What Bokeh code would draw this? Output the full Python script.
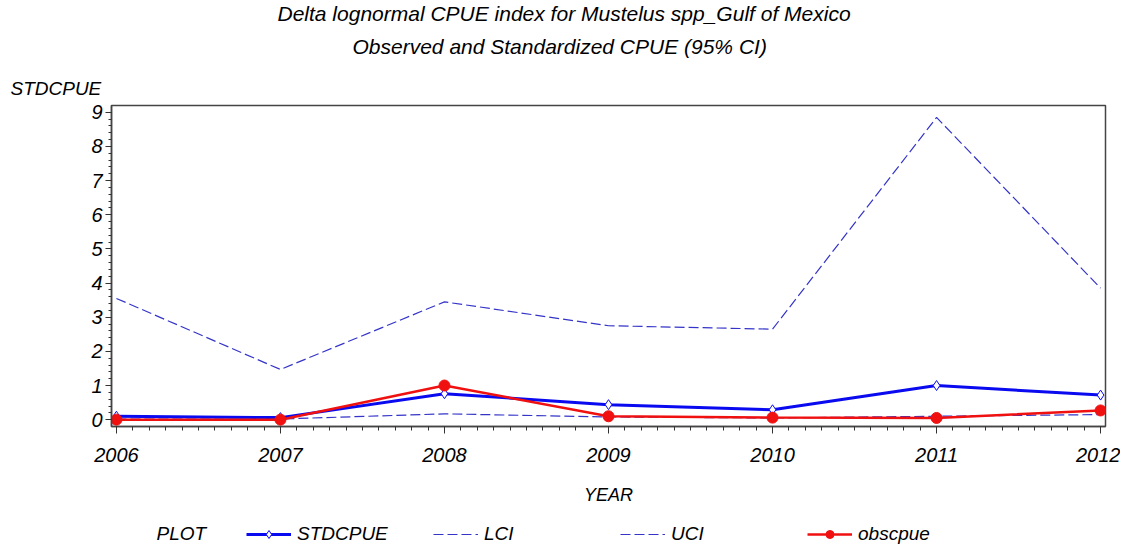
from bokeh.plotting import figure
from bokeh.layouts import column
from bokeh.models import Range1d, FixedTicker, Title, Legend, LegendItem, Label
from bokeh.embed import file_html
from bokeh.resources import INLINE

years = [2006, 2007, 2008, 2009, 2010, 2011, 2012]
stdcpue = [0.10, 0.06, 0.76, 0.44, 0.29, 1.00, 0.72]
lci = [0.02, 0.02, 0.17, 0.08, 0.05, 0.10, 0.15]
uci = [3.55, 1.47, 3.45, 2.75, 2.65, 8.85, 3.85]
obscpue = [0.00, 0.00, 1.00, 0.10, 0.06, 0.05, 0.27]
y_ticks = [0, 1, 2, 3, 4, 5, 6, 7, 8, 9]

FONT = "Liberation Sans"
BLUE = "#0a0af0"
DASH_BLUE = "#3434c8"
RED = "#f01010"

STD_STYLE = dict(line_color=BLUE, line_width=3)
STD_MARK = dict(marker="diamond", size=10, line_color=BLUE, fill_color="white",
                line_width=1)
CI_STYLE = dict(line_color=DASH_BLUE, line_width=1.2, line_dash="10 4")
OBS_STYLE = dict(line_color=RED, line_width=2.5)
OBS_MARK = dict(marker="circle", size=11, line_color=RED, fill_color=RED)

p = figure(frame_width=994, frame_height=321, output_backend="svg",
           toolbar_location=None,
           x_range=Range1d(2005.97, 2012.03), y_range=Range1d(-0.2, 9.2),
           min_border_left=111, min_border_right=15, min_border_top=105,
           min_border_bottom=95)
p.title.visible = False
p.xgrid.visible = False
p.ygrid.visible = False
p.outline_line_color = "#444444"
p.outline_line_width = 1.5

p.add_layout(Title(text="STDCPUE", align="left", offset=-101, text_font=FONT,
                   text_font_style="italic", text_font_size="19px",
                   text_color="black", standoff=14), "above")
p.add_layout(Title(text="Observed and Standardized CPUE (95% CI)", align="left",
                   offset=241, text_font=FONT, text_font_style="italic",
                   text_font_size="21px", text_color="black", standoff=22), "above")
p.add_layout(Title(text="Delta lognormal CPUE index for Mustelus spp_Gulf of Mexico",
                   align="left", offset=166, text_font=FONT,
                   text_font_style="italic", text_font_size="21px",
                   text_color="black", standoff=-7), "above")

p.line(years, stdcpue, **STD_STYLE)
p.scatter(years, stdcpue, **STD_MARK)
p.line(years, lci, **CI_STYLE)
p.line(years, uci, **CI_STYLE)
p.line(years, obscpue, **OBS_STYLE)
p.scatter(years, obscpue, **OBS_MARK)

p.xaxis.ticker = FixedTicker(ticks=years,
                             minor_ticks=[2006 + i / 10 for i in range(61)])
p.yaxis.ticker = FixedTicker(ticks=y_ticks,
                             minor_ticks=[i / 5 for i in range(46)])

for ax in (p.xaxis[0], p.yaxis[0]):
    ax.major_label_text_font = FONT
    ax.major_label_text_font_style = "italic"
    ax.major_label_text_font_size = "20px"
    ax.major_label_text_color = "black"
    ax.axis_line_color = "#444444"
    ax.axis_line_width = 1.5
    ax.major_tick_line_color = "#333333"
    ax.minor_tick_line_color = "#333333"
    ax.major_tick_in = 0
    ax.minor_tick_in = 0

p.xaxis.major_tick_out = 7
p.xaxis.minor_tick_out = 4
p.yaxis.major_tick_out = 6
p.yaxis.minor_tick_out = 3
p.xaxis.major_label_standoff = 14
p.yaxis.major_label_standoff = 3
p.xaxis.axis_label = "YEAR"
p.xaxis.axis_label_text_font = FONT
p.xaxis.axis_label_text_font_style = "italic"
p.xaxis.axis_label_text_font_size = "18px"
p.xaxis.axis_label_text_color = "black"
p.xaxis.axis_label_standoff = 20

# legend strip: the same series drawn far outside its visible range,
# so only their legend glyphs show
lg = figure(width=1120, height=24, output_backend="svg", toolbar_location=None,
            x_range=Range1d(0, 1), y_range=Range1d(0, 1),
            min_border=0, x_axis_location=None, y_axis_location=None)
lg.title.visible = False
lg.xgrid.visible = False
lg.ygrid.visible = False
lg.outline_line_color = None
l_std = lg.line(years, stdcpue, **STD_STYLE)
l_std_m = lg.scatter(years, stdcpue, **STD_MARK)
l_lci = lg.line(years, lci, **CI_STYLE)
l_uci = lg.line(years, uci, **CI_STYLE)
l_obs = lg.line(years, obscpue, **OBS_STYLE)
l_obs_m = lg.scatter(years, obscpue, **OBS_MARK)

legend = Legend(items=[
    LegendItem(label="STDCPUE", renderers=[l_std, l_std_m]),
    LegendItem(label="LCI", renderers=[l_lci]),
    LegendItem(label="UCI", renderers=[l_uci]),
    LegendItem(label="obscpue", renderers=[l_obs, l_obs_m]),
], orientation="horizontal", location=(135, 0),
    label_text_font=FONT, label_text_font_style="italic", label_text_font_size="19px",
    label_text_color="black",
    glyph_width=45, glyph_height=20, label_standoff=6, label_width=110, spacing=26,
    border_line_color=None, background_fill_alpha=0, padding=2, margin=0)
lg.add_layout(legend)
lg.add_layout(Label(x=45, y=12, x_units="screen", y_units="screen", text="PLOT",
                    text_font=FONT, text_font_style="italic", text_font_size="19px",
                    text_color="black", text_baseline="middle"))

layout = column(p, lg, spacing=0)
open("out.html", "w").write(file_html(layout, INLINE))
